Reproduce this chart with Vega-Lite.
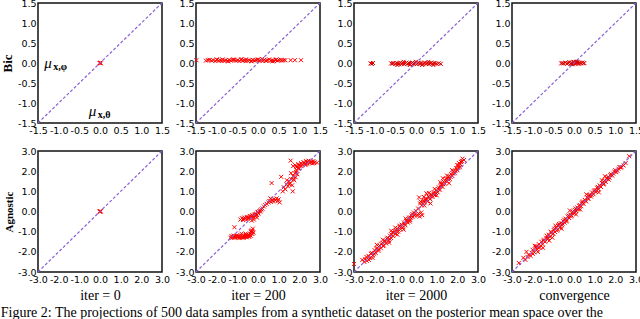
{
"$schema":"https://vega.github.io/schema/vega-lite/v6.json",
"padding":{"left":0,"top":-3,"right":0,"bottom":0},
"background":"white",
"config":{
 "view":{"stroke":"#111","strokeWidth":1.5},
 "axis":{"domain":false,"ticks":false,"grid":false,"labelFont":"DejaVu Sans","labelFontSize":9.5,"labelColor":"#000","labelPadding":2,"labelFlush":false,"labelOverlap":false,"titleFont":"Liberation Serif","titleFontSize":14,"titleFontWeight":"normal","titleColor":"#000"},
 "title":{"font":"Liberation Serif","fontSize":14,"fontWeight":"normal","color":"#000"}
},
"title":{"text":"Figure 2: The projections of 500 data samples from a synthetic dataset on the posterior mean space over the","orient":"bottom","anchor":"start","frame":"bounds","offset":3},
"datasets":{
 "diagT":[{"x":-1.5,"y":-1.5},{"x":1.5,"y":1.5}],
 "diagB":[{"x":-3,"y":-3},{"x":3,"y":3}],
 "lab":[{"m":"μ","s":"x,φ","x":-1.35,"y":0.0},{"m":"μ","s":"x,θ","x":-0.27,"y":-1.2}],
 "pts":[
{"p":"t0","x":0,"y":0},{"p":"t0","x":0.01,"y":0.01},{"p":"t0","x":-0.01,"y":0},{"p":"t0","x":0.02,"y":-0.01},
{"p":"b0","x":0,"y":0},{"p":"b0","x":0.02,"y":0.02},{"p":"b0","x":-0.02,"y":-0.01},{"p":"b0","x":0.03,"y":0},
{"p":"t1","x":-1.49,"y":0.07},{"p":"t1","x":-1.26,"y":0.06},{"p":"t1","x":-1.21,"y":0.07},{"p":"t1","x":-1.17,"y":0.08},{"p":"t1","x":-1.12,"y":0.06},{"p":"t1","x":-1.08,"y":0.07},{"p":"t1","x":-1.03,"y":0.05},{"p":"t1","x":-0.99,"y":0.08},{"p":"t1","x":-0.95,"y":0.06},{"p":"t1","x":-0.91,"y":0.07},{"p":"t1","x":-0.86,"y":0.09},{"p":"t1","x":-0.82,"y":0.06},{"p":"t1","x":-0.78,"y":0.07},{"p":"t1","x":-0.74,"y":0.05},{"p":"t1","x":-0.7,"y":0.08},{"p":"t1","x":-0.66,"y":0.06},{"p":"t1","x":-0.61,"y":0.07},{"p":"t1","x":-0.57,"y":0.08},{"p":"t1","x":-0.53,"y":0.06},{"p":"t1","x":-0.49,"y":0.07},{"p":"t1","x":-0.45,"y":0.05},{"p":"t1","x":-0.41,"y":0.08},{"p":"t1","x":-0.37,"y":0.06},{"p":"t1","x":-0.33,"y":0.07},{"p":"t1","x":-0.29,"y":0.09},{"p":"t1","x":-0.25,"y":0.06},{"p":"t1","x":-0.21,"y":0.07},{"p":"t1","x":-0.17,"y":0.05},{"p":"t1","x":-0.13,"y":0.08},{"p":"t1","x":-0.09,"y":0.06},{"p":"t1","x":-0.05,"y":0.07},{"p":"t1","x":-0.01,"y":0.08},{"p":"t1","x":0.03,"y":0.06},{"p":"t1","x":0.07,"y":0.07},{"p":"t1","x":0.11,"y":0.05},{"p":"t1","x":0.15,"y":0.08},{"p":"t1","x":0.19,"y":0.06},{"p":"t1","x":0.23,"y":0.07},{"p":"t1","x":0.27,"y":0.09},{"p":"t1","x":0.31,"y":0.06},{"p":"t1","x":0.35,"y":0.07},{"p":"t1","x":0.39,"y":0.05},{"p":"t1","x":0.43,"y":0.08},{"p":"t1","x":0.47,"y":0.06},{"p":"t1","x":0.51,"y":0.07},{"p":"t1","x":0.55,"y":0.08},{"p":"t1","x":0.58,"y":0.06},{"p":"t1","x":0.62,"y":0.07},{"p":"t1","x":0.66,"y":0.07},{"p":"t1","x":0.79,"y":0.07},{"p":"t1","x":0.89,"y":0.07},{"p":"t1","x":1.04,"y":0.07},{"p":"t1","x":-0.88,"y":0.05},{"p":"t1","x":-0.6,"y":0.09},{"p":"t1","x":-0.3,"y":0.05},{"p":"t1","x":0.0,"y":0.09},{"p":"t1","x":0.2,"y":0.05},{"p":"t1","x":0.45,"y":0.09},{"p":"t1","x":-1.0,"y":0.09},{"p":"t1","x":-0.72,"y":0.04},{"p":"t1","x":-0.4,"y":0.1},{"p":"t1","x":-0.15,"y":0.04},{"p":"t1","x":0.1,"y":0.1},{"p":"t1","x":0.35,"y":0.04},
{"p":"t2","x":-1.1,"y":-0.01},{"p":"t2","x":-1.07,"y":-0.02},{"p":"t2","x":-1.04,"y":0.0},{"p":"t2","x":-0.6,"y":-0.01},{"p":"t2","x":-0.57,"y":-0.02},{"p":"t2","x":-0.55,"y":0.0},{"p":"t2","x":-0.5,"y":-0.02},{"p":"t2","x":-0.47,"y":0.0},{"p":"t2","x":-0.44,"y":-0.01},{"p":"t2","x":-0.41,"y":-0.03},{"p":"t2","x":-0.38,"y":0.01},{"p":"t2","x":-0.35,"y":-0.02},{"p":"t2","x":-0.32,"y":0.0},{"p":"t2","x":-0.29,"y":-0.03},{"p":"t2","x":-0.26,"y":-0.01},{"p":"t2","x":-0.23,"y":0.01},{"p":"t2","x":-0.2,"y":-0.02},{"p":"t2","x":-0.17,"y":0.0},{"p":"t2","x":-0.14,"y":-0.03},{"p":"t2","x":-0.11,"y":-0.01},{"p":"t2","x":-0.08,"y":0.01},{"p":"t2","x":-0.05,"y":-0.02},{"p":"t2","x":-0.02,"y":0.0},{"p":"t2","x":0.01,"y":-0.03},{"p":"t2","x":0.04,"y":-0.01},{"p":"t2","x":0.07,"y":0.01},{"p":"t2","x":0.1,"y":-0.02},{"p":"t2","x":0.13,"y":0.0},{"p":"t2","x":0.16,"y":-0.03},{"p":"t2","x":0.19,"y":-0.01},{"p":"t2","x":0.22,"y":0.01},{"p":"t2","x":0.25,"y":-0.02},{"p":"t2","x":0.28,"y":0.0},{"p":"t2","x":0.31,"y":-0.03},{"p":"t2","x":0.34,"y":-0.01},{"p":"t2","x":0.37,"y":0.01},{"p":"t2","x":0.4,"y":-0.02},{"p":"t2","x":0.43,"y":0.0},{"p":"t2","x":0.46,"y":-0.01},{"p":"t2","x":0.5,"y":-0.02},{"p":"t2","x":0.55,"y":-0.01},{"p":"t2","x":0.6,"y":-0.02},{"p":"t2","x":-0.45,"y":-0.05},{"p":"t2","x":-0.3,"y":0.03},{"p":"t2","x":-0.15,"y":-0.05},{"p":"t2","x":0.0,"y":0.03},{"p":"t2","x":0.15,"y":-0.05},{"p":"t2","x":0.3,"y":0.03},{"p":"t2","x":0.42,"y":-0.05},
{"p":"t3","x":-0.31,"y":-0.01},{"p":"t3","x":-0.28,"y":0.0},{"p":"t3","x":-0.25,"y":-0.01},{"p":"t3","x":-0.2,"y":0.01},{"p":"t3","x":-0.17,"y":-0.02},{"p":"t3","x":-0.14,"y":0.0},{"p":"t3","x":-0.11,"y":0.02},{"p":"t3","x":-0.08,"y":-0.02},{"p":"t3","x":-0.05,"y":0.01},{"p":"t3","x":-0.03,"y":-0.03},{"p":"t3","x":-0.01,"y":0.03},{"p":"t3","x":0.01,"y":0.0},{"p":"t3","x":0.03,"y":-0.02},{"p":"t3","x":0.05,"y":0.02},{"p":"t3","x":0.07,"y":-0.01},{"p":"t3","x":0.09,"y":0.03},{"p":"t3","x":0.11,"y":-0.02},{"p":"t3","x":0.14,"y":0.01},{"p":"t3","x":0.17,"y":-0.01},{"p":"t3","x":0.2,"y":0.01},{"p":"t3","x":0.23,"y":-0.01},{"p":"t3","x":0.25,"y":0.0},{"p":"t3","x":0.0,"y":0.02},{"p":"t3","x":-0.06,"y":-0.03},{"p":"t3","x":0.06,"y":0.03},
{"p":"b1","x":-1.33,"y":-1.3},{"p":"b1","x":-1.28,"y":-1.22},{"p":"b1","x":-1.22,"y":-1.27},{"p":"b1","x":-1.18,"y":-1.2},{"p":"b1","x":-1.12,"y":-1.3},{"p":"b1","x":-1.08,"y":-1.24},{"p":"b1","x":-1.03,"y":-1.18},{"p":"b1","x":-0.98,"y":-1.28},{"p":"b1","x":-0.94,"y":-1.22},{"p":"b1","x":-0.9,"y":-1.32},{"p":"b1","x":-0.86,"y":-1.25},{"p":"b1","x":-0.82,"y":-1.19},{"p":"b1","x":-0.78,"y":-1.29},{"p":"b1","x":-0.74,"y":-1.23},{"p":"b1","x":-0.7,"y":-1.3},{"p":"b1","x":-0.66,"y":-1.2},{"p":"b1","x":-0.62,"y":-1.26},{"p":"b1","x":-0.58,"y":-1.17},{"p":"b1","x":-0.54,"y":-1.28},{"p":"b1","x":-0.5,"y":-1.22},{"p":"b1","x":-0.46,"y":-1.15},{"p":"b1","x":-0.42,"y":-1.26},{"p":"b1","x":-0.38,"y":-1.1},{"p":"b1","x":-0.35,"y":-1.2},{"p":"b1","x":-0.32,"y":-1.02},{"p":"b1","x":-0.3,"y":-0.93},{"p":"b1","x":-0.27,"y":-1.12},{"p":"b1","x":-0.25,"y":-0.85},{"p":"b1","x":-0.35,"y":-0.97},{"p":"b1","x":-0.22,"y":-1.05},{"p":"b1","x":-1.14,"y":-0.78},{"p":"b1","x":-0.6,"y":-1.1},{"p":"b1","x":-0.8,"y":-1.1},
{"p":"b1","x":-1.25,"y":-1.3},{"p":"b1","x":-1.15,"y":-1.25},{"p":"b1","x":-1.0,"y":-1.22},{"p":"b1","x":-0.88,"y":-1.28},{"p":"b1","x":-0.72,"y":-1.25},{"p":"b1","x":-0.56,"y":-1.22},{"p":"b1","x":-0.44,"y":-1.2},{"p":"b1","x":-0.28,"y":-1.0},
{"p":"b1","x":-0.85,"y":-0.4},{"p":"b1","x":-0.78,"y":-0.33},{"p":"b1","x":-0.72,"y":-0.42},{"p":"b1","x":-0.66,"y":-0.3},{"p":"b1","x":-0.6,"y":-0.36},{"p":"b1","x":-0.55,"y":-0.27},{"p":"b1","x":-0.5,"y":-0.38},{"p":"b1","x":-0.45,"y":-0.3},{"p":"b1","x":-0.4,"y":-0.22},{"p":"b1","x":-0.36,"y":-0.33},{"p":"b1","x":-0.31,"y":-0.25},{"p":"b1","x":-0.27,"y":-0.18},{"p":"b1","x":-0.22,"y":-0.28},{"p":"b1","x":-0.18,"y":-0.15},{"p":"b1","x":-0.14,"y":-0.22},{"p":"b1","x":-0.1,"y":-0.1},{"p":"b1","x":-0.06,"y":-0.17},{"p":"b1","x":-0.02,"y":-0.05},{"p":"b1","x":0.03,"y":-0.1},{"p":"b1","x":0.07,"y":0.02},{"p":"b1","x":0.12,"y":0.06},{"p":"b1","x":0.17,"y":0.1},{"p":"b1","x":0.22,"y":0.15},{"p":"b1","x":-0.2,"y":-0.4},{"p":"b1","x":-0.05,"y":-0.3},{"p":"b1","x":-0.3,"y":-0.45},{"p":"b1","x":-0.7,"y":-0.36},{"p":"b1","x":-0.48,"y":-0.32},{"p":"b1","x":-0.25,"y":-0.22},{"p":"b1","x":-0.12,"y":-0.15},{"p":"b1","x":0.0,"y":-0.02},{"p":"b1","x":0.1,"y":0.0},
{"p":"b1","x":0.28,"y":0.25},{"p":"b1","x":0.35,"y":0.32},{"p":"b1","x":0.42,"y":0.38},{"p":"b1","x":0.5,"y":0.45},{"p":"b1","x":0.55,"y":0.52},{"p":"b1","x":0.62,"y":0.48},{"p":"b1","x":0.68,"y":0.58},{"p":"b1","x":0.73,"y":0.5},{"p":"b1","x":0.78,"y":0.62},{"p":"b1","x":0.84,"y":0.55},{"p":"b1","x":0.9,"y":0.65},{"p":"b1","x":0.95,"y":0.52},{"p":"b1","x":1.0,"y":0.6},{"p":"b1","x":1.05,"y":0.45},{"p":"b1","x":0.6,"y":0.65},{"p":"b1","x":0.66,"y":1.41},{"p":"b1","x":1.12,"y":1.72},
{"p":"b1","x":1.2,"y":1.0},{"p":"b1","x":1.25,"y":1.2},{"p":"b1","x":1.32,"y":1.1},{"p":"b1","x":1.38,"y":1.35},{"p":"b1","x":1.45,"y":1.25},{"p":"b1","x":1.5,"y":1.5},{"p":"b1","x":1.55,"y":1.4},{"p":"b1","x":1.6,"y":1.62},{"p":"b1","x":1.65,"y":1.3},{"p":"b1","x":1.68,"y":1.0},{"p":"b1","x":1.7,"y":1.75},{"p":"b1","x":1.75,"y":1.55},{"p":"b1","x":1.78,"y":1.9},{"p":"b1","x":1.82,"y":1.7},{"p":"b1","x":1.86,"y":2.05},{"p":"b1","x":1.9,"y":1.85},{"p":"b1","x":1.94,"y":2.15},{"p":"b1","x":1.6,"y":1.9},{"p":"b1","x":1.4,"y":1.55},{"p":"b1","x":1.52,"y":1.35},{"p":"b1","x":1.72,"y":1.6},{"p":"b1","x":1.85,"y":1.95},
{"p":"b1","x":1.7,"y":2.25},{"p":"b1","x":1.8,"y":2.3},{"p":"b1","x":1.88,"y":2.2},{"p":"b1","x":1.95,"y":2.35},{"p":"b1","x":2.02,"y":2.28},{"p":"b1","x":2.08,"y":2.4},{"p":"b1","x":2.14,"y":2.32},{"p":"b1","x":2.2,"y":2.45},{"p":"b1","x":2.26,"y":2.36},{"p":"b1","x":2.32,"y":2.5},{"p":"b1","x":2.38,"y":2.4},{"p":"b1","x":2.44,"y":2.52},{"p":"b1","x":2.5,"y":2.42},{"p":"b1","x":2.56,"y":2.48},{"p":"b1","x":2.62,"y":2.38},{"p":"b1","x":2.68,"y":2.5},{"p":"b1","x":2.74,"y":2.44},{"p":"b1","x":2.86,"y":2.42},{"p":"b1","x":2.0,"y":2.15},{"p":"b1","x":2.3,"y":2.3},{"p":"b1","x":1.58,"y":2.52},{"p":"b1","x":2.1,"y":2.25},{"p":"b1","x":2.4,"y":2.45},{"p":"b1","x":2.6,"y":2.45},{"p":"b1","x":2.35,"y":2.35},{"p":"b1","x":1.85,"y":2.25},{"p":"b1","x":2.7,"y":2.4},
{"p":"b2","x":-3.0,"y":-2.6},{"p":"b2","x":-2.45,"y":-2.35},{"p":"b2","x":-2.38,"y":-2.45},{"p":"b2","x":-2.3,"y":-2.2},{"p":"b2","x":-2.22,"y":-2.3},{"p":"b2","x":-2.15,"y":-2.05},{"p":"b2","x":-2.08,"y":-2.18},{"p":"b2","x":-2.0,"y":-1.92},{"p":"b2","x":-1.95,"y":-2.05},{"p":"b2","x":-1.88,"y":-1.8},{"p":"b2","x":-1.82,"y":-1.95},{"p":"b2","x":-1.75,"y":-1.7},{"p":"b2","x":-1.7,"y":-1.82},{"p":"b2","x":-1.62,"y":-1.55},{"p":"b2","x":-1.56,"y":-1.68},{"p":"b2","x":-1.5,"y":-1.45},{"p":"b2","x":-1.45,"y":-1.58},{"p":"b2","x":-1.38,"y":-1.3},{"p":"b2","x":-1.32,"y":-1.45},{"p":"b2","x":-1.26,"y":-1.2},{"p":"b2","x":-1.2,"y":-1.32},{"p":"b2","x":-1.15,"y":-1.05},{"p":"b2","x":-1.1,"y":-1.22},{"p":"b2","x":-1.04,"y":-0.98},{"p":"b2","x":-0.98,"y":-1.1},{"p":"b2","x":-0.92,"y":-0.86},{"p":"b2","x":-0.86,"y":-1.0},{"p":"b2","x":-0.8,"y":-0.75},{"p":"b2","x":-0.75,"y":-0.88},{"p":"b2","x":-0.7,"y":-0.65},{"p":"b2","x":-0.64,"y":-0.8},{"p":"b2","x":-0.58,"y":-0.55},{"p":"b2","x":-0.52,"y":-0.68},{"p":"b2","x":-0.46,"y":-0.45},{"p":"b2","x":-0.4,"y":-0.55},{"p":"b2","x":-0.34,"y":-0.3},{"p":"b2","x":-0.28,"y":-0.42},{"p":"b2","x":-0.22,"y":-0.2},{"p":"b2","x":-0.16,"y":-0.28},{"p":"b2","x":-0.1,"y":-0.05},{"p":"b2","x":-0.05,"y":-0.15},{"p":"b2","x":0.0,"y":0.02},{"p":"b2","x":-1.6,"y":-1.4},{"p":"b2","x":-1.3,"y":-1.55},{"p":"b2","x":-1.0,"y":-0.8},{"p":"b2","x":-0.6,"y":-0.9},{"p":"b2","x":-2.1,"y":-2.3},{"p":"b2","x":-1.9,"y":-1.65},{"p":"b2","x":-2.6,"y":-2.4},{"p":"b2","x":-1.2,"y":-0.95},{"p":"b2","x":-0.9,"y":-1.15},{"p":"b2","x":-0.5,"y":-0.35},{"p":"b2","x":-0.3,"y":-0.5},
{"p":"b2","x":-2.5,"y":-2.5},{"p":"b2","x":-2.4,"y":-2.25},{"p":"b2","x":-2.28,"y":-2.4},{"p":"b2","x":-2.18,"y":-2.1},{"p":"b2","x":-2.02,"y":-2.1},{"p":"b2","x":-1.92,"y":-1.85},{"p":"b2","x":-1.8,"y":-1.88},{"p":"b2","x":-1.68,"y":-1.6},{"p":"b2","x":-1.58,"y":-1.72},{"p":"b2","x":-1.48,"y":-1.5},{"p":"b2","x":-1.4,"y":-1.35},{"p":"b2","x":-1.28,"y":-1.35},{"p":"b2","x":-1.18,"y":-1.15},{"p":"b2","x":-1.08,"y":-1.05},{"p":"b2","x":-0.96,"y":-0.95},{"p":"b2","x":-0.84,"y":-0.9},{"p":"b2","x":-0.78,"y":-0.7},{"p":"b2","x":-0.66,"y":-0.7},{"p":"b2","x":-0.56,"y":-0.62},{"p":"b2","x":-0.44,"y":-0.5},{"p":"b2","x":-0.36,"y":-0.38},{"p":"b2","x":-0.26,"y":-0.3},{"p":"b2","x":-0.18,"y":-0.12},{"p":"b2","x":-0.08,"y":-0.2},
{"p":"b2","x":0.05,"y":-0.2},{"p":"b2","x":0.12,"y":-0.1},{"p":"b2","x":0.18,"y":-0.25},{"p":"b2","x":0.25,"y":-0.05},{"p":"b2","x":0.3,"y":-0.18},{"p":"b2","x":0.1,"y":0.15},
{"p":"b2","x":0.2,"y":0.4},{"p":"b2","x":0.28,"y":0.3},{"p":"b2","x":0.35,"y":0.55},{"p":"b2","x":0.42,"y":0.45},{"p":"b2","x":0.48,"y":0.65},{"p":"b2","x":0.55,"y":0.5},{"p":"b2","x":0.6,"y":0.75},{"p":"b2","x":0.68,"y":0.62},{"p":"b2","x":0.74,"y":0.85},{"p":"b2","x":0.8,"y":0.72},{"p":"b2","x":0.86,"y":0.95},{"p":"b2","x":0.92,"y":0.82},{"p":"b2","x":0.98,"y":1.05},{"p":"b2","x":1.05,"y":0.95},{"p":"b2","x":1.1,"y":1.2},{"p":"b2","x":1.16,"y":1.08},{"p":"b2","x":1.22,"y":1.35},{"p":"b2","x":1.28,"y":1.22},{"p":"b2","x":1.34,"y":1.48},{"p":"b2","x":1.4,"y":1.38},{"p":"b2","x":1.46,"y":1.62},{"p":"b2","x":1.52,"y":1.5},{"p":"b2","x":1.58,"y":1.75},{"p":"b2","x":1.64,"y":1.62},{"p":"b2","x":1.7,"y":1.85},{"p":"b2","x":1.76,"y":1.76},{"p":"b2","x":1.82,"y":2.0},{"p":"b2","x":1.88,"y":1.9},{"p":"b2","x":1.94,"y":2.15},{"p":"b2","x":2.0,"y":2.05},{"p":"b2","x":2.06,"y":2.3},{"p":"b2","x":2.12,"y":2.2},{"p":"b2","x":2.18,"y":2.45},{"p":"b2","x":2.25,"y":2.62},{"p":"b2","x":2.32,"y":2.55},{"p":"b2","x":0.5,"y":0.9},{"p":"b2","x":0.7,"y":0.4},{"p":"b2","x":1.0,"y":0.8},{"p":"b2","x":1.3,"y":1.65},{"p":"b2","x":0.15,"y":0.7},{"p":"b2","x":0.4,"y":0.3},{"p":"b2","x":1.6,"y":1.4},{"p":"b2","x":2.0,"y":2.3},
{"p":"b2","x":0.22,"y":0.5},{"p":"b2","x":0.32,"y":0.42},{"p":"b2","x":0.45,"y":0.58},{"p":"b2","x":0.52,"y":0.6},{"p":"b2","x":0.64,"y":0.7},{"p":"b2","x":0.72,"y":0.75},{"p":"b2","x":0.84,"y":0.88},{"p":"b2","x":0.96,"y":0.92},{"p":"b2","x":1.08,"y":1.1},{"p":"b2","x":1.2,"y":1.25},{"p":"b2","x":1.32,"y":1.35},{"p":"b2","x":1.44,"y":1.5},{"p":"b2","x":1.56,"y":1.6},{"p":"b2","x":1.68,"y":1.72},{"p":"b2","x":1.8,"y":1.88},{"p":"b2","x":1.92,"y":2.0},{"p":"b2","x":2.04,"y":2.18},{"p":"b2","x":2.15,"y":2.35},{"p":"b2","x":2.22,"y":2.5},{"p":"b2","x":0.38,"y":0.72},{"p":"b2","x":0.62,"y":0.92},{"p":"b2","x":0.9,"y":1.12},{"p":"b2","x":1.18,"y":1.45},{"p":"b2","x":1.5,"y":1.78},{"p":"b2","x":1.75,"y":2.05},{"p":"b2","x":2.08,"y":2.4},
{"p":"b3","x":-2.67,"y":-2.55},{"p":"b3","x":-2.2,"y":-2.15},{"p":"b3","x":-2.1,"y":-2.2},{"p":"b3","x":-2.0,"y":-1.9},{"p":"b3","x":-1.92,"y":-2.02},{"p":"b3","x":-1.85,"y":-1.8},{"p":"b3","x":-1.78,"y":-1.88},{"p":"b3","x":-1.7,"y":-1.62},{"p":"b3","x":-1.65,"y":-1.78},{"p":"b3","x":-1.58,"y":-1.5},{"p":"b3","x":-1.52,"y":-1.62},{"p":"b3","x":-1.45,"y":-1.4},{"p":"b3","x":-1.4,"y":-1.5},{"p":"b3","x":-1.35,"y":-1.3},{"p":"b3","x":-1.28,"y":-1.38},{"p":"b3","x":-1.22,"y":-1.15},{"p":"b3","x":-1.16,"y":-1.25},{"p":"b3","x":-1.1,"y":-1.05},{"p":"b3","x":-1.04,"y":-1.12},{"p":"b3","x":-0.98,"y":-0.92},{"p":"b3","x":-0.92,"y":-1.02},{"p":"b3","x":-0.86,"y":-0.8},{"p":"b3","x":-0.8,"y":-0.9},{"p":"b3","x":-0.75,"y":-0.68},{"p":"b3","x":-0.7,"y":-0.8},{"p":"b3","x":-0.64,"y":-0.58},{"p":"b3","x":-0.58,"y":-0.68},{"p":"b3","x":-0.52,"y":-0.48},{"p":"b3","x":-0.46,"y":-0.55},{"p":"b3","x":-0.4,"y":-0.35},{"p":"b3","x":-0.35,"y":-0.45},{"p":"b3","x":-0.3,"y":-0.25},{"p":"b3","x":-0.24,"y":-0.32},{"p":"b3","x":-0.18,"y":-0.15},{"p":"b3","x":-0.12,"y":-0.2},{"p":"b3","x":-0.06,"y":-0.02},{"p":"b3","x":0.0,"y":-0.08},{"p":"b3","x":0.05,"y":0.08},{"p":"b3","x":0.1,"y":0.02},{"p":"b3","x":0.16,"y":0.2},{"p":"b3","x":0.22,"y":0.14},{"p":"b3","x":0.28,"y":0.32},{"p":"b3","x":0.34,"y":0.26},{"p":"b3","x":0.4,"y":0.45},{"p":"b3","x":0.46,"y":0.38},{"p":"b3","x":0.52,"y":0.58},{"p":"b3","x":0.58,"y":0.5},{"p":"b3","x":0.64,"y":0.7},{"p":"b3","x":0.7,"y":0.62},{"p":"b3","x":0.76,"y":0.82},{"p":"b3","x":0.82,"y":0.74},{"p":"b3","x":0.88,"y":0.94},{"p":"b3","x":0.94,"y":0.86},{"p":"b3","x":1.0,"y":1.06},{"p":"b3","x":1.06,"y":0.98},{"p":"b3","x":1.12,"y":1.18},{"p":"b3","x":1.18,"y":1.1},{"p":"b3","x":1.24,"y":1.3},{"p":"b3","x":1.3,"y":1.22},{"p":"b3","x":1.36,"y":1.42},{"p":"b3","x":1.42,"y":1.34},{"p":"b3","x":1.48,"y":1.54},{"p":"b3","x":1.54,"y":1.46},{"p":"b3","x":1.6,"y":1.64},{"p":"b3","x":1.68,"y":1.58},{"p":"b3","x":1.76,"y":1.8},{"p":"b3","x":1.85,"y":1.78},{"p":"b3","x":1.95,"y":1.98},{"p":"b3","x":2.05,"y":1.95},{"p":"b3","x":2.15,"y":2.12},{"p":"b3","x":2.3,"y":2.2},{"p":"b3","x":2.4,"y":2.28},{"p":"b3","x":2.67,"y":2.74},{"p":"b3","x":-1.5,"y":-1.8},{"p":"b3","x":-1.2,"y":-1.45},{"p":"b3","x":-1.9,"y":-1.7},{"p":"b3","x":-0.6,"y":-0.85},{"p":"b3","x":-0.9,"y":-0.7},{"p":"b3","x":0.3,"y":0.1},{"p":"b3","x":0.6,"y":0.85},{"p":"b3","x":1.2,"y":0.95},{"p":"b3","x":1.5,"y":1.75},{"p":"b3","x":-2.3,"y":-2.0},{"p":"b3","x":-0.2,"y":0.05},{"p":"b3","x":0.1,"y":-0.15},
{"p":"b3","x":-2.45,"y":-2.3},{"p":"b3","x":-2.35,"y":-2.4},{"p":"b3","x":-2.25,"y":-2.25},{"p":"b3","x":-2.05,"y":-2.05},{"p":"b3","x":-1.98,"y":-2.1},{"p":"b3","x":-1.82,"y":-1.72},{"p":"b3","x":-1.72,"y":-1.8},{"p":"b3","x":-1.6,"y":-1.7},{"p":"b3","x":-1.48,"y":-1.45},{"p":"b3","x":-1.32,"y":-1.2},{"p":"b3","x":-1.25,"y":-1.32},{"p":"b3","x":-1.12,"y":-1.0},{"p":"b3","x":-1.0,"y":-1.1},{"p":"b3","x":-0.95,"y":-0.85},{"p":"b3","x":-0.83,"y":-0.95},{"p":"b3","x":-0.72,"y":-0.62},{"p":"b3","x":-0.66,"y":-0.75},{"p":"b3","x":-0.55,"y":-0.6},{"p":"b3","x":-0.48,"y":-0.4},{"p":"b3","x":-0.38,"y":-0.5},{"p":"b3","x":-0.27,"y":-0.2},{"p":"b3","x":-0.15,"y":-0.25},{"p":"b3","x":-0.08,"y":-0.1},{"p":"b3","x":0.02,"y":0.0},{"p":"b3","x":0.08,"y":0.15},{"p":"b3","x":0.19,"y":0.1},{"p":"b3","x":0.25,"y":0.28},{"p":"b3","x":0.37,"y":0.4},{"p":"b3","x":0.43,"y":0.5},{"p":"b3","x":0.55,"y":0.55},{"p":"b3","x":0.67,"y":0.66},{"p":"b3","x":0.73,"y":0.78},{"p":"b3","x":0.85,"y":0.82},{"p":"b3","x":0.97,"y":1.0},{"p":"b3","x":1.09,"y":1.05},{"p":"b3","x":1.15,"y":1.22},{"p":"b3","x":1.27,"y":1.25},{"p":"b3","x":1.39,"y":1.4},{"p":"b3","x":1.45,"y":1.38},{"p":"b3","x":1.57,"y":1.62},{"p":"b3","x":1.65,"y":1.7},{"p":"b3","x":1.72,"y":1.68},{"p":"b3","x":1.8,"y":1.85},{"p":"b3","x":1.9,"y":1.88},{"p":"b3","x":2.0,"y":2.05},{"p":"b3","x":2.1,"y":2.02},{"p":"b3","x":2.2,"y":2.2},{"p":"b3","x":2.5,"y":2.4},{"p":"b3","x":2.25,"y":2.18},{"p":"b3","x":1.35,"y":1.55},{"p":"b3","x":-1.05,"y":-1.3},{"p":"b3","x":-1.75,"y":-2.0}
 ]
},
"spacing":9,
"vconcat":[
{"hconcat":[
 {"width":124,"height":120,"layer":[
  {"mark":{"type":"rule","color":"#888","strokeWidth":1,"strokeDash":[2,1]},"encoding":{"x":{"datum":0,"type":"quantitative","scale":{"domain":[-1.5,1.5],"nice":false,"zero":false},"axis":{"values":[-1.5,-1,-0.5,0,0.5,1,1.5],"format":".1f","labelExpr":"replace(datum.label,'−','-')","title":null}}}},
  {"mark":{"type":"rule","color":"#888","strokeWidth":1,"strokeDash":[2,1]},"encoding":{"y":{"datum":0,"type":"quantitative","scale":{"domain":[-1.5,1.5],"nice":false,"zero":false},"axis":{"values":[-1.5,-1,-0.5,0,0.5,1,1.5],"format":".1f","labelExpr":"replace(datum.label,'−','-')","title":"Bic","titleFontWeight":"bold","titleFontSize":13,"titlePadding":3}}}},
  {"data":{"name":"pts"},"transform":[{"filter":"datum.p=='t0'"}],"mark":{"type":"point","shape":"M-1,-1L1,1M-1,1L1,-1","filled":false,"color":"red","strokeWidth":1,"size":16,"opacity":1},"encoding":{"x":{"field":"x","type":"quantitative","scale":{"domain":[-1.5,1.5],"nice":false,"zero":false},"axis":{"values":[-1.5,-1,-0.5,0,0.5,1,1.5],"format":".1f","labelExpr":"replace(datum.label,'−','-')","title":null}},"y":{"field":"y","type":"quantitative","scale":{"domain":[-1.5,1.5],"nice":false,"zero":false},"axis":{"values":[-1.5,-1,-0.5,0,0.5,1,1.5],"format":".1f","labelExpr":"replace(datum.label,'−','-')","title":"Bic","titleFontWeight":"bold","titleFontSize":13,"titlePadding":3}}}},
  {"data":{"name":"diagT"},"mark":{"type":"line","color":"#8a5fd6","strokeDash":[3,2],"strokeWidth":1.2},"encoding":{"x":{"field":"x","type":"quantitative","scale":{"domain":[-1.5,1.5],"nice":false,"zero":false},"axis":{"values":[-1.5,-1,-0.5,0,0.5,1,1.5],"format":".1f","labelExpr":"replace(datum.label,'−','-')","title":null}},"y":{"field":"y","type":"quantitative","scale":{"domain":[-1.5,1.5],"nice":false,"zero":false},"axis":{"values":[-1.5,-1,-0.5,0,0.5,1,1.5],"format":".1f","labelExpr":"replace(datum.label,'−','-')","title":"Bic","titleFontWeight":"bold","titleFontSize":13,"titlePadding":3}}}},
  {"data":{"name":"lab"},"mark":{"type":"text","align":"left","baseline":"middle","font":"Liberation Serif","fontSize":15,"fontStyle":"italic","color":"#000"},"encoding":{"x":{"field":"x","type":"quantitative","scale":{"domain":[-1.5,1.5],"nice":false,"zero":false},"axis":{"values":[-1.5,-1,-0.5,0,0.5,1,1.5],"format":".1f","labelExpr":"replace(datum.label,'−','-')","title":null}},"y":{"field":"y","type":"quantitative","scale":{"domain":[-1.5,1.5],"nice":false,"zero":false},"axis":{"values":[-1.5,-1,-0.5,0,0.5,1,1.5],"format":".1f","labelExpr":"replace(datum.label,'−','-')","title":"Bic","titleFontWeight":"bold","titleFontSize":13,"titlePadding":3}},"text":{"field":"m"}}},
  {"data":{"name":"lab"},"mark":{"type":"text","align":"left","baseline":"middle","font":"Liberation Serif","fontSize":10,"fontWeight":"bold","dx":9,"dy":4,"color":"#000"},"encoding":{"x":{"field":"x","type":"quantitative","scale":{"domain":[-1.5,1.5],"nice":false,"zero":false},"axis":{"values":[-1.5,-1,-0.5,0,0.5,1,1.5],"format":".1f","labelExpr":"replace(datum.label,'−','-')","title":null}},"y":{"field":"y","type":"quantitative","scale":{"domain":[-1.5,1.5],"nice":false,"zero":false},"axis":{"values":[-1.5,-1,-0.5,0,0.5,1,1.5],"format":".1f","labelExpr":"replace(datum.label,'−','-')","title":"Bic","titleFontWeight":"bold","titleFontSize":13,"titlePadding":3}},"text":{"field":"s"}}}
 ]},
 {"width":124,"height":120,"layer":[
  {"mark":{"type":"rule","color":"#888","strokeWidth":1,"strokeDash":[2,1]},"encoding":{"x":{"datum":0,"type":"quantitative","scale":{"domain":[-1.5,1.5],"nice":false,"zero":false},"axis":{"values":[-1.5,-1,-0.5,0,0.5,1,1.5],"format":".1f","labelExpr":"replace(datum.label,'−','-')","title":null}}}},
  {"mark":{"type":"rule","color":"#888","strokeWidth":1,"strokeDash":[2,1]},"encoding":{"y":{"datum":0,"type":"quantitative","scale":{"domain":[-1.5,1.5],"nice":false,"zero":false},"axis":{"values":[-1.5,-1,-0.5,0,0.5,1,1.5],"format":".1f","labelExpr":"replace(datum.label,'−','-')","title":null}}}},
  {"data":{"name":"pts"},"transform":[{"filter":"datum.p=='t1'"}],"mark":{"type":"point","shape":"M-1,-1L1,1M-1,1L1,-1","filled":false,"color":"red","strokeWidth":1,"size":16,"opacity":1},"encoding":{"x":{"field":"x","type":"quantitative","scale":{"domain":[-1.5,1.5],"nice":false,"zero":false},"axis":{"values":[-1.5,-1,-0.5,0,0.5,1,1.5],"format":".1f","labelExpr":"replace(datum.label,'−','-')","title":null}},"y":{"field":"y","type":"quantitative","scale":{"domain":[-1.5,1.5],"nice":false,"zero":false},"axis":{"values":[-1.5,-1,-0.5,0,0.5,1,1.5],"format":".1f","labelExpr":"replace(datum.label,'−','-')","title":null}}}},
  {"data":{"name":"diagT"},"mark":{"type":"line","color":"#8a5fd6","strokeDash":[3,2],"strokeWidth":1.2},"encoding":{"x":{"field":"x","type":"quantitative","scale":{"domain":[-1.5,1.5],"nice":false,"zero":false},"axis":{"values":[-1.5,-1,-0.5,0,0.5,1,1.5],"format":".1f","labelExpr":"replace(datum.label,'−','-')","title":null}},"y":{"field":"y","type":"quantitative","scale":{"domain":[-1.5,1.5],"nice":false,"zero":false},"axis":{"values":[-1.5,-1,-0.5,0,0.5,1,1.5],"format":".1f","labelExpr":"replace(datum.label,'−','-')","title":null}}}}
 ]},
 {"width":124,"height":120,"layer":[
  {"mark":{"type":"rule","color":"#888","strokeWidth":1,"strokeDash":[2,1]},"encoding":{"x":{"datum":0,"type":"quantitative","scale":{"domain":[-1.5,1.5],"nice":false,"zero":false},"axis":{"values":[-1.5,-1,-0.5,0,0.5,1,1.5],"format":".1f","labelExpr":"replace(datum.label,'−','-')","title":null}}}},
  {"mark":{"type":"rule","color":"#888","strokeWidth":1,"strokeDash":[2,1]},"encoding":{"y":{"datum":0,"type":"quantitative","scale":{"domain":[-1.5,1.5],"nice":false,"zero":false},"axis":{"values":[-1.5,-1,-0.5,0,0.5,1,1.5],"format":".1f","labelExpr":"replace(datum.label,'−','-')","title":null}}}},
  {"data":{"name":"pts"},"transform":[{"filter":"datum.p=='t2'"}],"mark":{"type":"point","shape":"M-1,-1L1,1M-1,1L1,-1","filled":false,"color":"#dd0000","strokeWidth":1,"size":16,"opacity":1},"encoding":{"x":{"field":"x","type":"quantitative","scale":{"domain":[-1.5,1.5],"nice":false,"zero":false},"axis":{"values":[-1.5,-1,-0.5,0,0.5,1,1.5],"format":".1f","labelExpr":"replace(datum.label,'−','-')","title":null}},"y":{"field":"y","type":"quantitative","scale":{"domain":[-1.5,1.5],"nice":false,"zero":false},"axis":{"values":[-1.5,-1,-0.5,0,0.5,1,1.5],"format":".1f","labelExpr":"replace(datum.label,'−','-')","title":null}}}},
  {"data":{"name":"diagT"},"mark":{"type":"line","color":"#8a5fd6","strokeDash":[3,2],"strokeWidth":1.2},"encoding":{"x":{"field":"x","type":"quantitative","scale":{"domain":[-1.5,1.5],"nice":false,"zero":false},"axis":{"values":[-1.5,-1,-0.5,0,0.5,1,1.5],"format":".1f","labelExpr":"replace(datum.label,'−','-')","title":null}},"y":{"field":"y","type":"quantitative","scale":{"domain":[-1.5,1.5],"nice":false,"zero":false},"axis":{"values":[-1.5,-1,-0.5,0,0.5,1,1.5],"format":".1f","labelExpr":"replace(datum.label,'−','-')","title":null}}}}
 ]},
 {"width":124,"height":120,"layer":[
  {"mark":{"type":"rule","color":"#888","strokeWidth":1,"strokeDash":[2,1]},"encoding":{"x":{"datum":0,"type":"quantitative","scale":{"domain":[-1.5,1.5],"nice":false,"zero":false},"axis":{"values":[-1.5,-1,-0.5,0,0.5,1,1.5],"format":".1f","labelExpr":"replace(datum.label,'−','-')","title":null}}}},
  {"mark":{"type":"rule","color":"#888","strokeWidth":1,"strokeDash":[2,1]},"encoding":{"y":{"datum":0,"type":"quantitative","scale":{"domain":[-1.5,1.5],"nice":false,"zero":false},"axis":{"values":[-1.5,-1,-0.5,0,0.5,1,1.5],"format":".1f","labelExpr":"replace(datum.label,'−','-')","title":null}}}},
  {"data":{"name":"pts"},"transform":[{"filter":"datum.p=='t3'"}],"mark":{"type":"point","shape":"M-1,-1L1,1M-1,1L1,-1","filled":false,"color":"#dd0000","strokeWidth":1,"size":16,"opacity":1},"encoding":{"x":{"field":"x","type":"quantitative","scale":{"domain":[-1.5,1.5],"nice":false,"zero":false},"axis":{"values":[-1.5,-1,-0.5,0,0.5,1,1.5],"format":".1f","labelExpr":"replace(datum.label,'−','-')","title":null}},"y":{"field":"y","type":"quantitative","scale":{"domain":[-1.5,1.5],"nice":false,"zero":false},"axis":{"values":[-1.5,-1,-0.5,0,0.5,1,1.5],"format":".1f","labelExpr":"replace(datum.label,'−','-')","title":null}}}},
  {"data":{"name":"diagT"},"mark":{"type":"line","color":"#8a5fd6","strokeDash":[3,2],"strokeWidth":1.2},"encoding":{"x":{"field":"x","type":"quantitative","scale":{"domain":[-1.5,1.5],"nice":false,"zero":false},"axis":{"values":[-1.5,-1,-0.5,0,0.5,1,1.5],"format":".1f","labelExpr":"replace(datum.label,'−','-')","title":null}},"y":{"field":"y","type":"quantitative","scale":{"domain":[-1.5,1.5],"nice":false,"zero":false},"axis":{"values":[-1.5,-1,-0.5,0,0.5,1,1.5],"format":".1f","labelExpr":"replace(datum.label,'−','-')","title":null}}}}
 ]}
],"spacing":34,"bounds":"flush"},
{"hconcat":[
 {"width":124,"height":121,"layer":[
  {"mark":{"type":"rule","color":"#888","strokeWidth":1,"strokeDash":[2,1]},"encoding":{"x":{"datum":0,"type":"quantitative","scale":{"domain":[-3,3],"nice":false,"zero":false},"axis":{"values":[-3,-2,-1,0,1,2,3],"format":".1f","labelExpr":"replace(datum.label,'−','-')","title":"iter = 0","titlePadding":5}}}},
  {"mark":{"type":"rule","color":"#888","strokeWidth":1,"strokeDash":[2,1]},"encoding":{"y":{"datum":0,"type":"quantitative","scale":{"domain":[-3,3],"nice":false,"zero":false},"axis":{"values":[-3,-2,-1,0,1,2,3],"format":".1f","labelExpr":"replace(datum.label,'−','-')","title":"Agnostic","titleFontWeight":"bold","titleFontSize":11,"titlePadding":3}}}},
  {"data":{"name":"pts"},"transform":[{"filter":"datum.p=='b0'"}],"mark":{"type":"point","shape":"M-1,-1L1,1M-1,1L1,-1","filled":false,"color":"red","strokeWidth":1,"size":16,"opacity":1},"encoding":{"x":{"field":"x","type":"quantitative","scale":{"domain":[-3,3],"nice":false,"zero":false},"axis":{"values":[-3,-2,-1,0,1,2,3],"format":".1f","labelExpr":"replace(datum.label,'−','-')","title":"iter = 0","titlePadding":5}},"y":{"field":"y","type":"quantitative","scale":{"domain":[-3,3],"nice":false,"zero":false},"axis":{"values":[-3,-2,-1,0,1,2,3],"format":".1f","labelExpr":"replace(datum.label,'−','-')","title":"Agnostic","titleFontWeight":"bold","titleFontSize":11,"titlePadding":3}}}},
  {"data":{"name":"diagB"},"mark":{"type":"line","color":"#8a5fd6","strokeDash":[3,2],"strokeWidth":1.2},"encoding":{"x":{"field":"x","type":"quantitative","scale":{"domain":[-3,3],"nice":false,"zero":false},"axis":{"values":[-3,-2,-1,0,1,2,3],"format":".1f","labelExpr":"replace(datum.label,'−','-')","title":"iter = 0","titlePadding":5}},"y":{"field":"y","type":"quantitative","scale":{"domain":[-3,3],"nice":false,"zero":false},"axis":{"values":[-3,-2,-1,0,1,2,3],"format":".1f","labelExpr":"replace(datum.label,'−','-')","title":"Agnostic","titleFontWeight":"bold","titleFontSize":11,"titlePadding":3}}}}
 ]},
 {"width":124,"height":121,"layer":[
  {"mark":{"type":"rule","color":"#888","strokeWidth":1,"strokeDash":[2,1]},"encoding":{"x":{"datum":0,"type":"quantitative","scale":{"domain":[-3,3],"nice":false,"zero":false},"axis":{"values":[-3,-2,-1,0,1,2,3],"format":".1f","labelExpr":"replace(datum.label,'−','-')","title":"iter = 200","titlePadding":5}}}},
  {"mark":{"type":"rule","color":"#888","strokeWidth":1,"strokeDash":[2,1]},"encoding":{"y":{"datum":0,"type":"quantitative","scale":{"domain":[-3,3],"nice":false,"zero":false},"axis":{"values":[-3,-2,-1,0,1,2,3],"format":".1f","labelExpr":"replace(datum.label,'−','-')","title":null}}}},
  {"data":{"name":"pts"},"transform":[{"filter":"datum.p=='b1'"}],"mark":{"type":"point","shape":"M-1,-1L1,1M-1,1L1,-1","filled":false,"color":"red","strokeWidth":1,"size":16,"opacity":1},"encoding":{"x":{"field":"x","type":"quantitative","scale":{"domain":[-3,3],"nice":false,"zero":false},"axis":{"values":[-3,-2,-1,0,1,2,3],"format":".1f","labelExpr":"replace(datum.label,'−','-')","title":"iter = 200","titlePadding":5}},"y":{"field":"y","type":"quantitative","scale":{"domain":[-3,3],"nice":false,"zero":false},"axis":{"values":[-3,-2,-1,0,1,2,3],"format":".1f","labelExpr":"replace(datum.label,'−','-')","title":null}}}},
  {"data":{"name":"diagB"},"mark":{"type":"line","color":"#8a5fd6","strokeDash":[3,2],"strokeWidth":1.2},"encoding":{"x":{"field":"x","type":"quantitative","scale":{"domain":[-3,3],"nice":false,"zero":false},"axis":{"values":[-3,-2,-1,0,1,2,3],"format":".1f","labelExpr":"replace(datum.label,'−','-')","title":"iter = 200","titlePadding":5}},"y":{"field":"y","type":"quantitative","scale":{"domain":[-3,3],"nice":false,"zero":false},"axis":{"values":[-3,-2,-1,0,1,2,3],"format":".1f","labelExpr":"replace(datum.label,'−','-')","title":null}}}}
 ]},
 {"width":124,"height":121,"layer":[
  {"mark":{"type":"rule","color":"#888","strokeWidth":1,"strokeDash":[2,1]},"encoding":{"x":{"datum":0,"type":"quantitative","scale":{"domain":[-3,3],"nice":false,"zero":false},"axis":{"values":[-3,-2,-1,0,1,2,3],"format":".1f","labelExpr":"replace(datum.label,'−','-')","title":"iter = 2000","titlePadding":5}}}},
  {"mark":{"type":"rule","color":"#888","strokeWidth":1,"strokeDash":[2,1]},"encoding":{"y":{"datum":0,"type":"quantitative","scale":{"domain":[-3,3],"nice":false,"zero":false},"axis":{"values":[-3,-2,-1,0,1,2,3],"format":".1f","labelExpr":"replace(datum.label,'−','-')","title":null}}}},
  {"data":{"name":"pts"},"transform":[{"filter":"datum.p=='b2'"}],"mark":{"type":"point","shape":"M-1,-1L1,1M-1,1L1,-1","filled":false,"color":"red","strokeWidth":1,"size":16,"opacity":1},"encoding":{"x":{"field":"x","type":"quantitative","scale":{"domain":[-3,3],"nice":false,"zero":false},"axis":{"values":[-3,-2,-1,0,1,2,3],"format":".1f","labelExpr":"replace(datum.label,'−','-')","title":"iter = 2000","titlePadding":5}},"y":{"field":"y","type":"quantitative","scale":{"domain":[-3,3],"nice":false,"zero":false},"axis":{"values":[-3,-2,-1,0,1,2,3],"format":".1f","labelExpr":"replace(datum.label,'−','-')","title":null}}}},
  {"data":{"name":"diagB"},"mark":{"type":"line","color":"#8a5fd6","strokeDash":[3,2],"strokeWidth":1.2},"encoding":{"x":{"field":"x","type":"quantitative","scale":{"domain":[-3,3],"nice":false,"zero":false},"axis":{"values":[-3,-2,-1,0,1,2,3],"format":".1f","labelExpr":"replace(datum.label,'−','-')","title":"iter = 2000","titlePadding":5}},"y":{"field":"y","type":"quantitative","scale":{"domain":[-3,3],"nice":false,"zero":false},"axis":{"values":[-3,-2,-1,0,1,2,3],"format":".1f","labelExpr":"replace(datum.label,'−','-')","title":null}}}}
 ]},
 {"width":124,"height":121,"layer":[
  {"mark":{"type":"rule","color":"#888","strokeWidth":1,"strokeDash":[2,1]},"encoding":{"x":{"datum":0,"type":"quantitative","scale":{"domain":[-3,3],"nice":false,"zero":false},"axis":{"values":[-3,-2,-1,0,1,2,3],"format":".1f","labelExpr":"replace(datum.label,'−','-')","title":"convergence","titlePadding":5}}}},
  {"mark":{"type":"rule","color":"#888","strokeWidth":1,"strokeDash":[2,1]},"encoding":{"y":{"datum":0,"type":"quantitative","scale":{"domain":[-3,3],"nice":false,"zero":false},"axis":{"values":[-3,-2,-1,0,1,2,3],"format":".1f","labelExpr":"replace(datum.label,'−','-')","title":null}}}},
  {"data":{"name":"pts"},"transform":[{"filter":"datum.p=='b3'"}],"mark":{"type":"point","shape":"M-1,-1L1,1M-1,1L1,-1","filled":false,"color":"red","strokeWidth":1,"size":16,"opacity":1},"encoding":{"x":{"field":"x","type":"quantitative","scale":{"domain":[-3,3],"nice":false,"zero":false},"axis":{"values":[-3,-2,-1,0,1,2,3],"format":".1f","labelExpr":"replace(datum.label,'−','-')","title":"convergence","titlePadding":5}},"y":{"field":"y","type":"quantitative","scale":{"domain":[-3,3],"nice":false,"zero":false},"axis":{"values":[-3,-2,-1,0,1,2,3],"format":".1f","labelExpr":"replace(datum.label,'−','-')","title":null}}}},
  {"data":{"name":"diagB"},"mark":{"type":"line","color":"#8a5fd6","strokeDash":[3,2],"strokeWidth":1.2},"encoding":{"x":{"field":"x","type":"quantitative","scale":{"domain":[-3,3],"nice":false,"zero":false},"axis":{"values":[-3,-2,-1,0,1,2,3],"format":".1f","labelExpr":"replace(datum.label,'−','-')","title":"convergence","titlePadding":5}},"y":{"field":"y","type":"quantitative","scale":{"domain":[-3,3],"nice":false,"zero":false},"axis":{"values":[-3,-2,-1,0,1,2,3],"format":".1f","labelExpr":"replace(datum.label,'−','-')","title":null}}}}
 ]}
],"spacing":34,"bounds":"flush"}
]
}
